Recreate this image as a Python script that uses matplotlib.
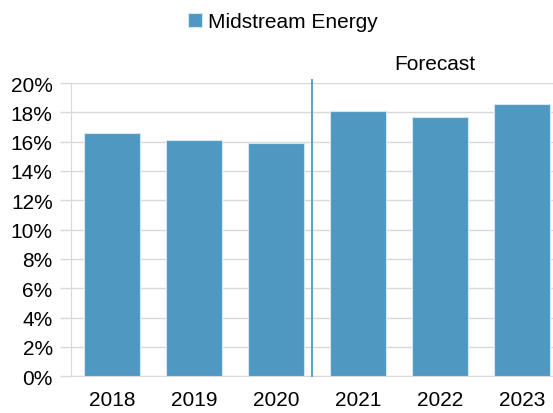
import matplotlib.pyplot as plt
from matplotlib.ticker import PercentFormatter

plt.rcParams['font.family'] = ['Liberation Sans', 'DejaVu Sans']

years = ['2018', '2019', '2020', '2021', '2022', '2023']
share = [16.6, 16.1, 15.9, 18.1, 17.7, 18.6]
series_name = 'Midstream Energy'

fig = plt.figure(figsize=(5.53, 4.14), dpi=100)
ax = fig.add_axes([0.128, 0.089, 0.872, 0.708])

x = range(len(years))
ax.bar(x, share, width=0.68, color='#4f98c2', edgecolor='#d6e6f0', linewidth=0.8,
       label=series_name, zorder=3)

ax.set_ylim(0, 20)
ax.set_yticks(range(0, 21, 2))
ax.yaxis.set_major_formatter(PercentFormatter(decimals=0))
ax.set_xlim(-0.5, 5.38)
ax.set_xticks(list(x))
ax.set_xticklabels(years)
ax.grid(axis='y', color='#d9d9d9', linewidth=1, zorder=0)

for s in ['top', 'right']:
    ax.spines[s].set_visible(False)
ax.spines['left'].set_color('#d9d9d9')
ax.spines['bottom'].set_color('#d9d9d9')
ax.tick_params(axis='x', length=0, labelsize=15, pad=10, colors='black')
ax.tick_params(axis='y', length=8, width=1, color='#d9d9d9', labelsize=15, pad=5,
               labelcolor='black')

# forecast divider
ax.plot([2.44, 2.44], [0, 20.2], color='#4f98c2', linewidth=1.3, clip_on=False, zorder=4)
ax.text(0.755, 1.068, 'Forecast', transform=ax.transAxes, ha='center', va='center', fontsize=15)

ax.legend(loc='center', bbox_to_anchor=(0.44, 1.21), frameon=False, fontsize=15,
          handlelength=0.65, handleheight=0.65, handletextpad=0.3)

fig.savefig('out.png', dpi=100)
